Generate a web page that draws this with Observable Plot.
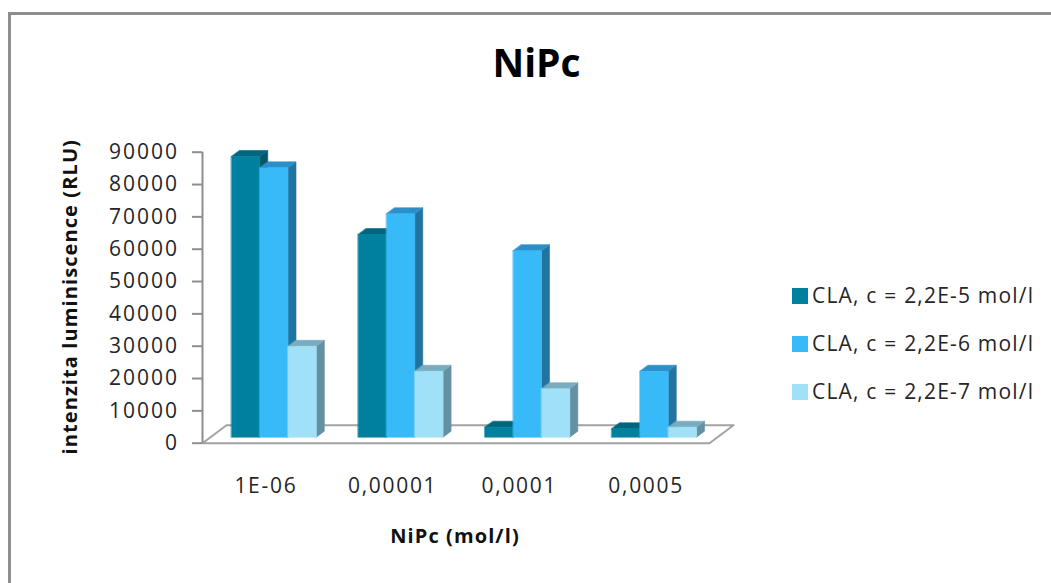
<!DOCTYPE html>
<html><head><meta charset="utf-8">
<script src="https://cdn.jsdelivr.net/npm/d3@7"></script>
<script src="https://cdn.jsdelivr.net/npm/@observablehq/plot@0.6"></script>
<style>
html,body{margin:0;padding:0;background:#fff;overflow:hidden;width:1051px;height:583px;}
#wrap{position:relative;width:1051px;height:583px;overflow:hidden;font-family:"Open Sans",sans-serif;}
#frame{position:absolute;left:8px;top:12px;width:1100px;height:640px;border:3px solid #8e8e8e;box-sizing:border-box;}
#chart{position:absolute;left:0;top:0;}
#title{position:absolute;left:0;top:42px;width:1073px;text-align:center;font-weight:bold;font-size:39px;line-height:39px;color:#000;}
.leg{position:absolute;left:792px;height:21px;}
.leg .sw{position:absolute;left:0;width:16px;height:16px;}
.leg .tx{position:absolute;left:20px;top:0;white-space:nowrap;font-size:21px;line-height:21px;color:#262626;letter-spacing:1.2px;}
g[aria-label="y-axis tick label"] text{letter-spacing:2px;}
g[aria-label="x-axis tick label"] text{letter-spacing:1.7px;}
g[aria-label="text"] text{letter-spacing:1.1px;}
</style></head>
<body><div id="wrap"><div id="frame"></div><div id="chart"></div><div id="title"></div><div id="legend"></div></div>
<script>
// ---- data ----
const chartTitle = "NiPc";
const xTitle = "NiPc (mol/l)";
const yTitle = "intenzita luminiscence (RLU)";
const categories = ["1E-06", "0,00001", "0,0001", "0,0005"];
const seriesNames = ["CLA, c = 2,2E-5 mol/l", "CLA, c = 2,2E-6 mol/l", "CLA, c = 2,2E-7 mol/l"];
const series1 = [86800, 62700, 3100, 2600];
const series2 = [83300, 69100, 57700, 20400];
const series3 = [28100, 20400, 15000, 3100];
const yTicks = [0, 10000, 20000, 30000, 40000, 50000, 60000, 70000, 80000, 90000];

// ---- styles ----
const frontColors = ["#00809f", "#38b9f8", "#a0e1f7"];
const topColors   = ["#00667f", "#2b8fc8", "#78adc0"];
const sideColors  = ["#00576d", "#2274a0", "#6391a1"];

// ---- 3D projection helpers (scale units) ----
const xDomain = [-0.5, 3.5];
const yDomain = [0, 90000];
const barW = 0.2233;          // bar width, in category units
const depthX = 0.1894;        // x shift for full floor depth
const depthY = 5567;          // y shift for full floor depth
const zF = 1/3, zB = 2/3;     // bar depth range
const P = (x, v, z) => ({x: x + z * depthX, y: v + z * depthY});

const allSeries = [series1, series2, series3];
const faces = [];
let pid = 0;
categories.forEach((c, i) => {
  allSeries.forEach((vals, k) => {
    const v = vals[i];
    const x0 = i + (k - 1.5) * barW, x1 = x0 + barW;
    const polys = [
      ["side" + k, [P(x1, 0, zF), P(x1, 0, zB), P(x1, v, zB), P(x1, v, zF)]],
      ["top" + k, [P(x0, v, zF), P(x1, v, zF), P(x1, v, zB), P(x0, v, zB)]],
      ["front" + k, [P(x0, 0, zF), P(x1, 0, zF), P(x1, v, zF), P(x0, v, zF)]]
    ];
    for (const [key, pts] of polys) {
      pid++;
      for (const p of pts) faces.push({id: pid, key, x: p.x, y: p.y});
    }
  });
});
const faceKeys = [0,1,2].flatMap(k => ["front" + k, "top" + k, "side" + k]);
const faceRange = [0,1,2].flatMap(k => [frontColors[k], topColors[k], sideColors[k]]);

const floor = [P(xDomain[0], 0, 0), P(xDomain[1], 0, 0), P(xDomain[1], 0, 1), P(xDomain[0], 0, 1)];

const plot = Plot.plot({
  width: 1051,
  height: 583,
  marginLeft: 202,
  marginRight: 342,
  marginTop: 151.7,
  marginBottom: 140.3,
  style: {fontFamily: "Open Sans", background: "transparent", overflow: "visible", color: "#262626"},
  x: {domain: xDomain},
  y: {domain: yDomain},
  color: {type: "ordinal", domain: faceKeys, range: faceRange},
  marks: [
    Plot.line(floor, {x: "x", y: "y", fill: "#ffffff", stroke: "#a3a3a3", strokeWidth: 2, curve: "linear-closed"}),
    Plot.ruleX([xDomain[0]], {y1: yDomain[0], y2: yDomain[1], stroke: "#8e8e8e", strokeWidth: 2}),
    Plot.axisY({ticks: yTicks, tickSize: 10, tickPadding: 13.5, tickFormat: d3.format("d"), stroke: "#8e8e8e", strokeWidth: 2, fill: "#262626", fontSize: 21, label: null}),
    Plot.line(faces, {x: "x", y: "y", z: "id", fill: "key", stroke: "key", strokeWidth: 0.6, curve: "linear-closed"}),
    Plot.axisX({ticks: [0, 1, 2, 3], tickFormat: i => categories[i], tickSize: 0, tickPadding: 35, fill: "#262626", fontSize: 21, label: null}),
    Plot.text([yTitle], {text: d => d, frameAnchor: "left", textAnchor: "middle", rotate: -90, dx: -131.5, dy: -1, lineAnchor: "middle", fontWeight: "bold", fontSize: 20, fill: "#111"}),
    Plot.text([xTitle], {text: d => d, frameAnchor: "bottom", textAnchor: "middle", dx: -1, dy: 93, lineAnchor: "middle", fontWeight: "bold", fontSize: 20, fill: "#111"})
  ]
});
document.getElementById("chart").appendChild(plot);
document.getElementById("title").textContent = chartTitle;

const legendTops = [284.7, 332.7, 380.7];
const legend = document.getElementById("legend");
seriesNames.forEach((name, k) => {
  const row = document.createElement("div");
  row.className = "leg";
  row.style.top = legendTops[k] + "px";
  row.innerHTML = `<div class="sw" style="top:3.5px;background:${frontColors[k]}"></div><div class="tx"></div>`;
  row.querySelector(".tx").textContent = name;
  legend.appendChild(row);
});
</script></body></html>
